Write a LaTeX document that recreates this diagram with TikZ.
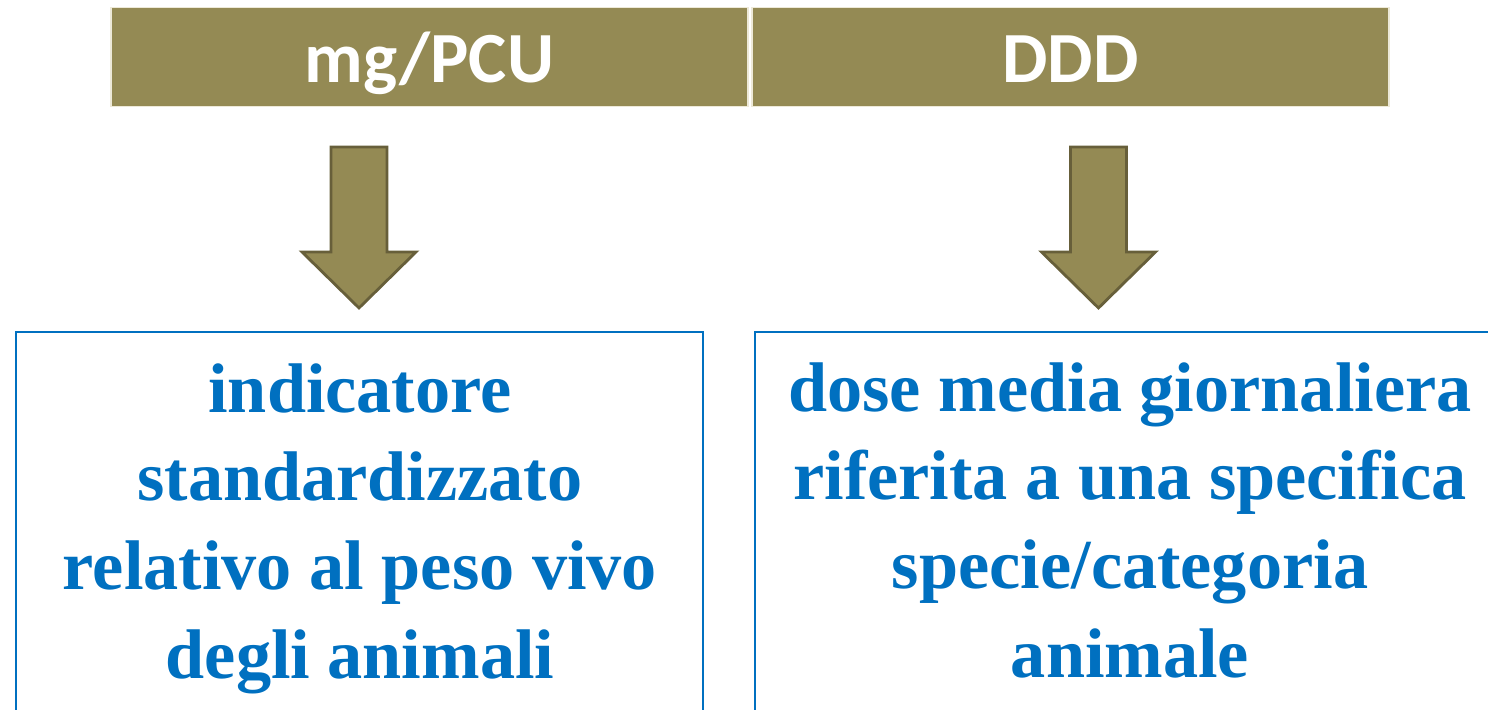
\documentclass[tikz,border=0pt]{standalone}
\usepackage{fontspec}
\newfontfamily\headfont{Carlito}
\newfontfamily\bodyfont{Liberation Serif}
\definecolor{olivebar}{HTML}{948A54}
\definecolor{olivedark}{HTML}{675F3A}
\definecolor{creamline}{HTML}{EDE9D8}
\definecolor{textblue}{HTML}{0070C0}
\tikzset{
  headcell/.style={fill=olivebar,draw=creamline,line width=0.8pt,minimum width=12.74cm,minimum height=1.98cm,inner sep=0pt,
    text=white,font=\headfont\bfseries\fontsize{41}{41}\selectfont,text height=29.4pt,text depth=0pt},
  bigarrow/.style={fill=olivebar,draw=olivedark,line width=1.6pt,line join=miter},
  infobox/.style={draw=textblue,line width=1.1pt},
  infotext/.style={text=textblue,align=center,inner sep=0pt,anchor=north,
    font=\bodyfont\bfseries\fontsize{40}{50.5}\selectfont}
}
\begin{document}
\begin{tikzpicture}[x=0.02cm,y=-0.02cm]
\useasboundingbox (0,0) rectangle (1488,710);
\clip (0,0) rectangle (1488,710);

% header bar
\node[headcell] (mgpcu) at (429.5,57) {mg/PCU};
\node[headcell] (ddd) at (1070.5,57) {DDD};

% block arrows
\coordinate (pcuarrow) at (359,147);
\coordinate (dddarrow) at (1098.5,147);
\foreach \a in {pcuarrow,dddarrow}{%
  \draw[bigarrow] ([xshift=-0.56cm]\a) -- ([xshift=0.56cm]\a)
    -- ([xshift=0.56cm,yshift=-2.1cm]\a) -- ([xshift=1.14cm,yshift=-2.1cm]\a)
    -- ([yshift=-3.22cm]\a) -- ([xshift=-1.14cm,yshift=-2.1cm]\a)
    -- ([xshift=-0.56cm,yshift=-2.1cm]\a) -- cycle;
}

% boxes
\draw[infobox] (16,332) rectangle (703,740);
\draw[infobox] (755,332) rectangle (1520,740);

\node[infotext] (pcutext) at (360,363) {indicatore\\standardizzato\\relativo al peso vivo\\degli animali};
\node[infotext] (dddtext) at (1130,362) {dose media giornaliera\\riferita a una specifica\\specie/categoria\\animale};
\end{tikzpicture}
\end{document}
